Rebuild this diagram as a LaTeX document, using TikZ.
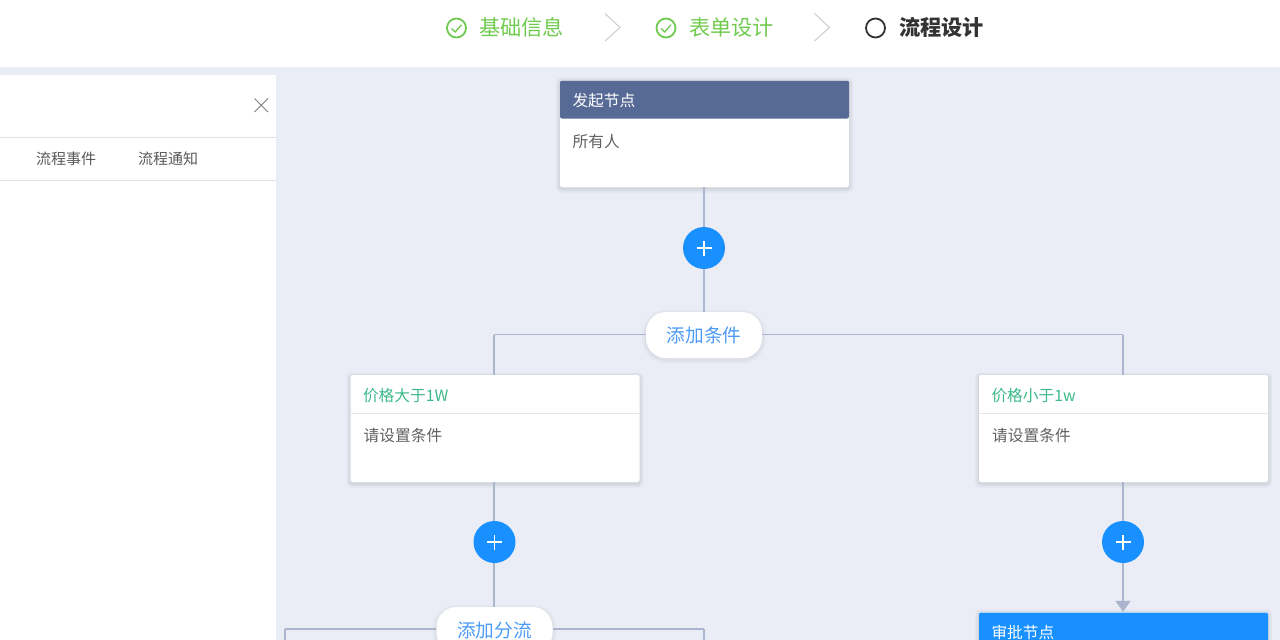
\documentclass[tikz,border=0pt]{standalone}
\usepackage{fontspec}
\setmainfont{Noto Sans CJK SC}
\usetikzlibrary{shadows,arrows.meta}

\definecolor{pagebg}{HTML}{EAEDF5}
\definecolor{linecol}{HTML}{ABB5CE}
\definecolor{startcol}{HTML}{576A95}
\definecolor{addcol}{HTML}{1890FF}
\definecolor{stepgreen}{HTML}{6FCB4F}
\definecolor{condgreen}{HTML}{3CB98A}
\definecolor{pillblue}{HTML}{4C9BF8}

\tikzset{
  softshadow/.style={
    general shadow={shadow xshift=0pt, shadow yshift=-1.5pt, draw=black, line width=8pt, opacity=#1},
    general shadow={shadow xshift=0pt, shadow yshift=-1.5pt, draw=black, line width=5pt, opacity=#1},
    general shadow={shadow xshift=0pt, shadow yshift=-1.5pt, draw=black, line width=2pt, opacity=#1}},
  cardbody/.style={rectangle, rounded corners=2pt, fill=white, minimum width=289pt, minimum height=107pt, inner sep=0pt, softshadow=.03},
  cardhead/.style={rectangle, rounded corners=2pt, minimum width=289pt, minimum height=38pt, inner xsep=12.5pt, inner ysep=0pt, text width=264pt, text height=16pt, text depth=2pt, align=left, font=\fontsize{15.7}{17}\selectfont},
  cardtext/.style={anchor=west, inner sep=0pt, text=black!62, font=\fontsize{15.7}{17}\selectfont},
  addbtn/.style={circle, fill=addcol, minimum size=42pt, inner sep=0pt,
    path picture={\draw[white, line width=1.1pt]
      ([xshift=-7.5pt]path picture bounding box.center) -- ([xshift=7.5pt]path picture bounding box.center)
      ([yshift=-7.5pt]path picture bounding box.center) -- ([yshift=7.5pt]path picture bounding box.center);}},
  pill/.style={rectangle, rounded corners=20pt, fill=white, minimum width=116pt, minimum height=46pt, inner sep=0pt, text=pillblue,
    font=\fontsize{18.7}{20}\selectfont, softshadow=.02},
  conn/.style={draw=linecol, line width=1.5pt},
  steplabel/.style={anchor=west, inner sep=0pt, font=\fontsize{21.2}{23}\selectfont},
  stepdot/.style={circle, draw, line width=1.8pt, minimum size=19pt, inner sep=0pt},
  chevron/.style={draw=black!20, line width=1pt},
  tabtext/.style={inner sep=0pt, text=black!65, font=\fontsize{15}{17}\selectfont},
}

\begin{document}
\begin{tikzpicture}[x=1pt, y=-1pt]
    \useasboundingbox (0,0) rectangle (1280,640);
    \clip (0,0) rectangle (1280,640);

    % page
    \fill[pagebg] (0,67) rectangle (1280,640);
    \fill[white] (0,75) rectangle (276,640);
    \draw[black!12, line width=1pt] (0,137.5) -- (276,137.5);
    \draw[black!12, line width=1pt] (0,180) -- (276,180);
    \draw[black!50, line width=1pt] (254.5,98.5) -- (268,112) (268,98.5) -- (254.5,112);
    \node[tabtext] (tabevent) at (66,159) {流程事件};
    \node[tabtext] (tabnotice) at (168,159) {流程通知};

    % steps
    \node[stepdot, draw=stepgreen] (step1) at (456.5,28) {};
    \node[steplabel, text=stepgreen] (step1text) at (479,27) {基础信息};
    \node[stepdot, draw=stepgreen] (step2) at (666,28) {};
    \node[steplabel, text=stepgreen] (step2text) at (689,27) {表单设计};
    \node[stepdot, draw=black!80] (step3) at (875.5,28) {};
    \node[steplabel, text=black!80, font=\fontsize{21.2}{23}\selectfont\bfseries] (step3text) at (899,27) {流程设计};
    \draw[stepgreen, line width=1.3pt] (451.5,28.5) -- (455.2,32) -- (461.5,24.8);
    \draw[stepgreen, line width=1.3pt] (661,28.5) -- (664.7,32) -- (671,24.8);
    \draw[chevron] (605,13.5) -- (620,27.5) -- (605,41);
    \draw[chevron] (814.5,13.5) -- (829.5,27.5) -- (814.5,41);

    % free ends and corners of the branches
    \coordinate (split1left) at (494,334.5);
    \coordinate (split1right) at (1123,334.5);
    \coordinate (split2left) at (285,629);
    \coordinate (split2right) at (704,629);
    \coordinate (drop2left) at (285,640);
    \coordinate (drop2right) at (704,640);

    % cards
    \node[cardbody] (start) at (704.5,133.5) {};
    \node[cardbody] (cond1) at (495,428.5) {};
    \node[cardbody] (cond2) at (1123.5,428.5) {};
    \node[cardbody] (approve) at (1123.5,665.5) {};

    \node[cardhead, fill=startcol, text=white] (starthead) at (704.5,99.5) {发起节点};
    \node[cardtext] (starttext) at (572.5,142) {所有人};
    \node[cardhead, text=condgreen] (cond1head) at (495,394) {价格大于1W};
    \node[cardtext] (cond1text) at (363.5,436) {请设置条件};
    \node[cardhead, text=condgreen] (cond2head) at (1123.5,394) {价格小于1w};
    \node[cardtext] (cond2text) at (992,436) {请设置条件};
    \node[cardhead, fill=addcol, text=white] (approvehead) at (1123.5,631.5) {审批节点};
    \draw[black!10, line width=1pt] (cond1head.south west) -- (cond1head.south east);
    \draw[black!10, line width=1pt] (cond2head.south west) -- (cond2head.south east);

    % buttons
    \node[addbtn] (add1) at (704,248) {};
    \node[addbtn] (add2) at (494.5,542) {};
    \node[addbtn] (add3) at (1123,542) {};
    \node[pill] (branch1) at (704,335) {添加条件};
    \node[pill] (branch2) at (494.5,630) {添加分流};

    % edges
    \draw[conn] (start.south -| add1) -- (add1);
    \draw[conn] (add1) -- (branch1);
    \draw[conn, line width=1.1pt] (branch1.west |- split1left) -- (split1left);
    \draw[conn, line width=1.1pt] (branch1.east |- split1right) -- (split1right);
    \draw[conn] (split1left) -- (cond1.north -| split1left);
    \draw[conn] (split1right) -- (cond2.north -| split1right);
    \draw[conn] (cond1.south -| split1left) -- (add2.north -| split1left);
    \draw[conn] (add2.south -| split1left) -- (branch2.north -| split1left);
    \draw[conn, line width=1.1pt] (branch2.west |- split2left) -- (split2left);
    \draw[conn, line width=1.1pt] (branch2.east |- split2right) -- (split2right);
    \draw[conn] (split2left) -- (drop2left);
    \draw[conn] (split2right) -- (drop2right);
    \draw[conn] (cond2.south -| add3) -- (add3);
    \draw[conn, -{Triangle[length=11pt, width=15pt]}] (add3) -- (approve.north -| add3);

\end{tikzpicture}
\end{document}
